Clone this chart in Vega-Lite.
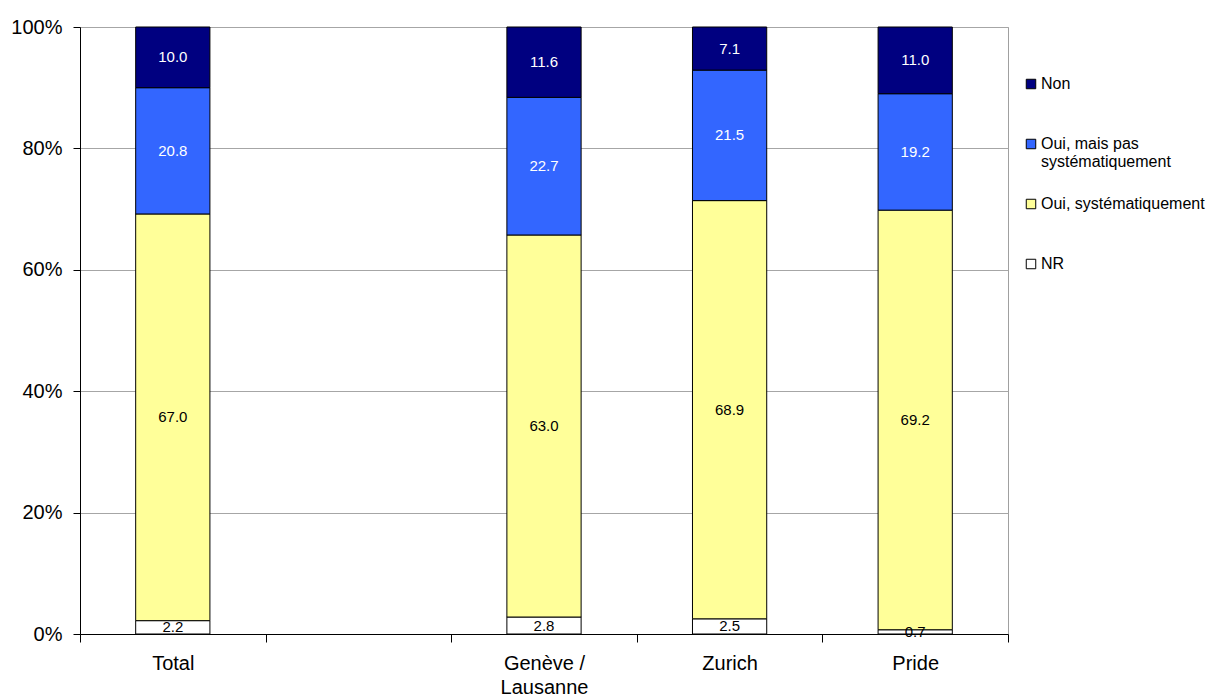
{
  "$schema": "https://vega.github.io/schema/vega-lite/v6.json",
  "width": 928,
  "height": 607,
  "autosize": {"type": "none"},
  "padding": {"left": 80, "top": 27, "right": 199, "bottom": 63},
  "background": "white",
  "config": {
    "font": "Liberation Sans",
    "view": {"stroke": "#a0a0a0", "strokeWidth": 1}
  },
  "data": {
    "values": [
      {"groupe": "Total", "reponse": "NR", "ordre": 1, "valeur": 2.2},
      {"groupe": "Total", "reponse": "Oui, systématiquement", "ordre": 2, "valeur": 67.0},
      {"groupe": "Total", "reponse": "Oui, mais pas systématiquement", "ordre": 3, "valeur": 20.8},
      {"groupe": "Total", "reponse": "Non", "ordre": 4, "valeur": 10.0},
      {"groupe": "Genève / Lausanne", "reponse": "NR", "ordre": 1, "valeur": 2.8},
      {"groupe": "Genève / Lausanne", "reponse": "Oui, systématiquement", "ordre": 2, "valeur": 63.0},
      {"groupe": "Genève / Lausanne", "reponse": "Oui, mais pas systématiquement", "ordre": 3, "valeur": 22.7},
      {"groupe": "Genève / Lausanne", "reponse": "Non", "ordre": 4, "valeur": 11.6},
      {"groupe": "Zurich", "reponse": "NR", "ordre": 1, "valeur": 2.5},
      {"groupe": "Zurich", "reponse": "Oui, systématiquement", "ordre": 2, "valeur": 68.9},
      {"groupe": "Zurich", "reponse": "Oui, mais pas systématiquement", "ordre": 3, "valeur": 21.5},
      {"groupe": "Zurich", "reponse": "Non", "ordre": 4, "valeur": 7.1},
      {"groupe": "Pride", "reponse": "NR", "ordre": 1, "valeur": 0.7},
      {"groupe": "Pride", "reponse": "Oui, systématiquement", "ordre": 2, "valeur": 69.2},
      {"groupe": "Pride", "reponse": "Oui, mais pas systématiquement", "ordre": 3, "valeur": 19.2},
      {"groupe": "Pride", "reponse": "Non", "ordre": 4, "valeur": 11.0}
    ]
  },
  "encoding": {
    "x": {
      "field": "groupe",
      "type": "nominal",
      "scale": {"domain": ["Total", " ", "Genève / Lausanne", "Zurich", "Pride"], "paddingInner": 0, "paddingOuter": 0},
      "axis": {
        "title": null,
        "labelAngle": 0,
        "labelFontSize": 20,
        "labelColor": "black",
        "labelPadding": 11,
        "labelLineHeight": 24,
        "labelExpr": "datum.value == 'Genève / Lausanne' ? ['Genève /', 'Lausanne'] : datum.label",
        "domainColor": "black",
        "tickColor": "black",
        "tickSize": 8,
        "tickBand": "extent",
        "grid": false
      }
    },
    "order": {"field": "ordre", "type": "quantitative"}
  },
  "layer": [
    {
      "mark": {"type": "bar", "width": {"band": 0.4}, "stroke": "black", "strokeWidth": 1},
      "encoding": {
        "y": {
          "field": "valeur",
          "type": "quantitative",
          "stack": "normalize",
          "scale": {"domain": [0, 1]},
          "axis": {
            "title": null,
            "format": ".0%",
            "values": [0, 0.2, 0.4, 0.6, 0.8, 1],
            "labelFontSize": 20,
            "labelColor": "black",
            "labelPadding": 11,
            "domainColor": "black",
            "tickColor": "black",
            "tickSize": 7,
            "gridColor": "#a6a6a6",
            "gridWidth": 1
          }
        },
        "color": {
          "field": "reponse",
          "type": "nominal",
          "scale": {
            "domain": ["Non", "Oui, mais pas systématiquement", "Oui, systématiquement", "NR"],
            "range": ["#000080", "#3366FF", "#FFFF99", "#FFFFFF"]
          },
          "legend": {
            "title": null,
            "orient": "none",
            "legendX": 943,
            "legendY": 49,
            "labelFontSize": 16,
            "labelColor": "black",
            "labelLimit": 300,
            "labelLineHeight": 17,
            "labelBaseline": "top",
            "labelExpr": "datum.value == 'Oui, mais pas systématiquement' ? ['Oui, mais pas', 'systématiquement'] : [datum.label, '']",
            "symbolType": "square",
            "symbolSize": 90,
            "symbolStrokeColor": "black",
            "symbolStrokeWidth": 1,
            "symbolOpacity": 1,
            "rowPadding": 26,
            "labelOffset": 2,
            "padding": 0,
            "encode": {"labels": {"update": {"dy": {"value": -8}}}}
          }
        }
      }
    },
    {
      "mark": {"type": "text", "fontSize": 15, "align": "center", "baseline": "middle"},
      "encoding": {
        "y": {"field": "valeur", "type": "quantitative", "stack": "normalize", "bandPosition": 0.5},
        "text": {"field": "valeur", "type": "quantitative", "format": ".1f"},
        "color": {
          "condition": {"test": "datum.reponse == 'Non' || datum.reponse == 'Oui, mais pas systématiquement'", "value": "white"},
          "value": "black"
        }
      }
    }
  ]
}
